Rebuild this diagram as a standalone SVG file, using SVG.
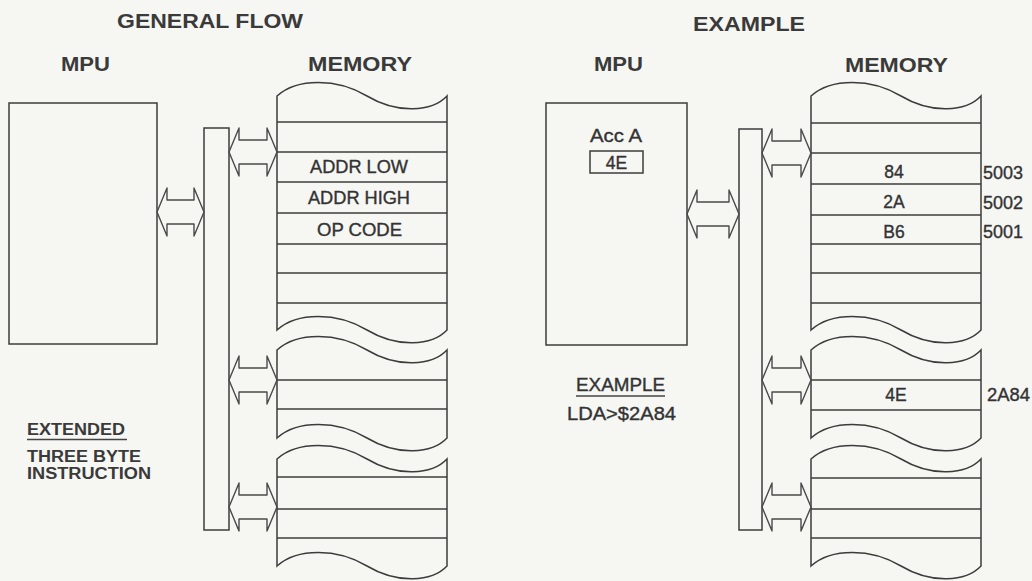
<svg xmlns="http://www.w3.org/2000/svg" width="1032" height="581" viewBox="0 0 1032 581">
<style>
.bg{fill:#f6f6f3}
.box{fill:none;stroke:#3c3c3c;stroke-width:1.5}
.row{stroke:#3c3c3c;stroke-width:1.5}
.arr{fill:none;stroke:#4a4a4a;stroke-width:1.4;stroke-linejoin:round}
.h{font-family:"Liberation Sans",Arial,sans-serif;font-weight:bold;font-size:20px;fill:#3a3a3a}
.hb{font-size:21px}
.t{font-family:"Liberation Sans",Arial,sans-serif;font-weight:normal;font-size:17.5px;fill:#333;stroke:#333;stroke-width:0.35}
.s{font-family:"Liberation Sans",Arial,sans-serif;font-weight:bold;font-size:16px;fill:#3a3a3a}
.ul{stroke:#444;stroke-width:1.5}
</style>
<rect class="bg" x="0" y="0" width="1032" height="581"/>

<g id="titles">
<text class="h" x="117" y="28" textLength="186" lengthAdjust="spacingAndGlyphs">GENERAL FLOW</text>
<text class="h hb" x="693" y="31" textLength="112" lengthAdjust="spacingAndGlyphs">EXAMPLE</text>
<text class="h hb" x="61" y="71" textLength="49" lengthAdjust="spacingAndGlyphs">MPU</text>
<text class="h hb" x="308" y="71" textLength="104" lengthAdjust="spacingAndGlyphs">MEMORY</text>
<text class="h hb" x="594" y="71" textLength="49" lengthAdjust="spacingAndGlyphs">MPU</text>
<text class="h hb" x="845" y="72" textLength="103" lengthAdjust="spacingAndGlyphs">MEMORY</text>
</g>

<!-- LEFT: GENERAL FLOW -->
<g id="mpu-left">
<rect class="box" x="9" y="103" width="148" height="241"/>
</g>
<g id="bus-left">
<rect class="box" x="204" y="128" width="25" height="402"/>
</g>
<g id="mem-left-1">
<path class="box" d="M277,96 c20,-18 60,-18 90,0 c30,18 65,16 80,0 L447,330 c-15,16 -50,18 -80,0 c-30,-18 -70,-18 -90,0 Z"/>
<line class="row" x1="277" y1="122" x2="447" y2="122"/>
<line class="row" x1="277" y1="152" x2="447" y2="152"/>
<line class="row" x1="277" y1="182" x2="447" y2="182"/>
<line class="row" x1="277" y1="213" x2="447" y2="213"/>
<line class="row" x1="277" y1="244" x2="447" y2="244"/>
<line class="row" x1="277" y1="273" x2="447" y2="273"/>
<line class="row" x1="277" y1="303" x2="447" y2="303"/>
<text class="t" x="310" y="173" textLength="98" lengthAdjust="spacingAndGlyphs">ADDR LOW</text>
<text class="t" x="308" y="204" textLength="102" lengthAdjust="spacingAndGlyphs">ADDR HIGH</text>
<text class="t" x="317" y="236" textLength="85" lengthAdjust="spacingAndGlyphs">OP CODE</text>
</g>
<g id="mem-left-2">
<path class="box" d="M277,350 c20,-18 60,-18 90,0 c30,18 65,16 80,0 L447,438 c-15,16 -50,18 -80,0 c-30,-18 -70,-18 -90,0 Z"/>
<line class="row" x1="277" y1="380" x2="447" y2="380"/>
<line class="row" x1="277" y1="409" x2="447" y2="409"/>
</g>
<g id="mem-left-3">
<path class="box" d="M277,459 c20,-18 60,-18 90,0 c30,18 65,16 80,0 L447,566 c-15,16 -50,18 -80,0 c-30,-18 -70,-18 -90,0 Z"/>
<line class="row" x1="277" y1="477" x2="447" y2="477"/>
<line class="row" x1="277" y1="509" x2="447" y2="509"/>
<line class="row" x1="277" y1="538" x2="447" y2="538"/>
</g>
<g id="label-left">
<text class="s" x="27" y="435" textLength="98" lengthAdjust="spacingAndGlyphs">EXTENDED</text>
<line class="ul" x1="27" y1="439.5" x2="127" y2="439.5"/>
<text class="s" x="27" y="462" textLength="114" lengthAdjust="spacingAndGlyphs">THREE BYTE</text>
<text class="s" x="27" y="479" textLength="124" lengthAdjust="spacingAndGlyphs">INSTRUCTION</text>
</g>

<!-- RIGHT: EXAMPLE -->
<g id="mpu-right">
<rect class="box" x="546" y="103" width="141" height="242"/>
<text class="t" x="590" y="142" textLength="52" lengthAdjust="spacingAndGlyphs">Acc A</text>
<rect class="box" x="590" y="151" width="53" height="22"/>
<text class="t" x="616.5" y="169" text-anchor="middle">4E</text>
</g>
<g id="bus-right">
<rect class="box" x="739" y="129" width="23" height="401"/>
</g>
<g id="mem-right-1">
<path class="box" d="M811,96 c20,-18 60,-18 90,0 c30,18 65,16 80,0 L981,330 c-15,16 -50,18 -80,0 c-30,-18 -70,-18 -90,0 Z"/>
<line class="row" x1="811" y1="123" x2="981" y2="123"/>
<line class="row" x1="811" y1="153" x2="981" y2="153"/>
<line class="row" x1="811" y1="184" x2="981" y2="184"/>
<line class="row" x1="811" y1="215" x2="981" y2="215"/>
<line class="row" x1="811" y1="244" x2="981" y2="244"/>
<line class="row" x1="811" y1="273" x2="981" y2="273"/>
<line class="row" x1="811" y1="303" x2="981" y2="303"/>
<text class="t" x="894" y="178" text-anchor="middle">84</text>
<text class="t" x="894" y="208" text-anchor="middle">2A</text>
<text class="t" x="894" y="238" text-anchor="middle">B6</text>
<text class="t" x="983" y="179" textLength="40" lengthAdjust="spacingAndGlyphs">5003</text>
<text class="t" x="983" y="209" textLength="40" lengthAdjust="spacingAndGlyphs">5002</text>
<text class="t" x="983" y="238" textLength="40" lengthAdjust="spacingAndGlyphs">5001</text>
</g>
<g id="mem-right-2">
<path class="box" d="M811,350 c20,-18 60,-18 90,0 c30,18 65,16 80,0 L981,438 c-15,16 -50,18 -80,0 c-30,-18 -70,-18 -90,0 Z"/>
<line class="row" x1="811" y1="380" x2="981" y2="380"/>
<line class="row" x1="811" y1="410" x2="981" y2="410"/>
<text class="t" x="896" y="401" text-anchor="middle">4E</text>
<text class="t" x="987" y="401" textLength="43" lengthAdjust="spacingAndGlyphs">2A84</text>
</g>
<g id="mem-right-3">
<path class="box" d="M811,459 c20,-18 60,-18 90,0 c30,18 65,16 80,0 L981,566 c-15,16 -50,18 -80,0 c-30,-18 -70,-18 -90,0 Z"/>
<line class="row" x1="811" y1="478" x2="981" y2="478"/>
<line class="row" x1="811" y1="509" x2="981" y2="509"/>
<line class="row" x1="811" y1="538" x2="981" y2="538"/>
</g>
<g id="label-right">
<text class="t" x="576" y="391" textLength="89" lengthAdjust="spacingAndGlyphs">EXAMPLE</text>
<line class="ul" x1="576" y1="396" x2="665" y2="396"/>
<text class="t" x="567" y="420" textLength="109" lengthAdjust="spacingAndGlyphs">LDA&gt;$2A84</text>
</g>

<g id="connectors">
<path class="arr" d="M157,212 L167,188 L167,200 L194,200 L194,188 L204,212 L194,236 L194,224 L167,224 L167,236 Z"/>
<path class="arr" d="M229,152 L239,128 L239,140 L267,140 L267,128 L277,152 L267,176 L267,164 L239,164 L239,176 Z"/>
<path class="arr" d="M229,380 L239,356 L239,368 L267,368 L267,356 L277,380 L267,404 L267,392 L239,392 L239,404 Z"/>
<path class="arr" d="M229,507 L239,483 L239,495 L267,495 L267,483 L277,507 L267,531 L267,519 L239,519 L239,531 Z"/>
<path class="arr" d="M687,214 L697,190 L697,202 L729,202 L729,190 L739,214 L729,238 L729,226 L697,226 L697,238 Z"/>
<path class="arr" d="M762,153 L772,129 L772,141 L801,141 L801,129 L811,153 L801,177 L801,165 L772,165 L772,177 Z"/>
<path class="arr" d="M762,380 L772,356 L772,368 L801,368 L801,356 L811,380 L801,404 L801,392 L772,392 L772,404 Z"/>
<path class="arr" d="M762,507 L772,483 L772,495 L801,495 L801,483 L811,507 L801,531 L801,519 L772,519 L772,531 Z"/>
</g>
</svg>
